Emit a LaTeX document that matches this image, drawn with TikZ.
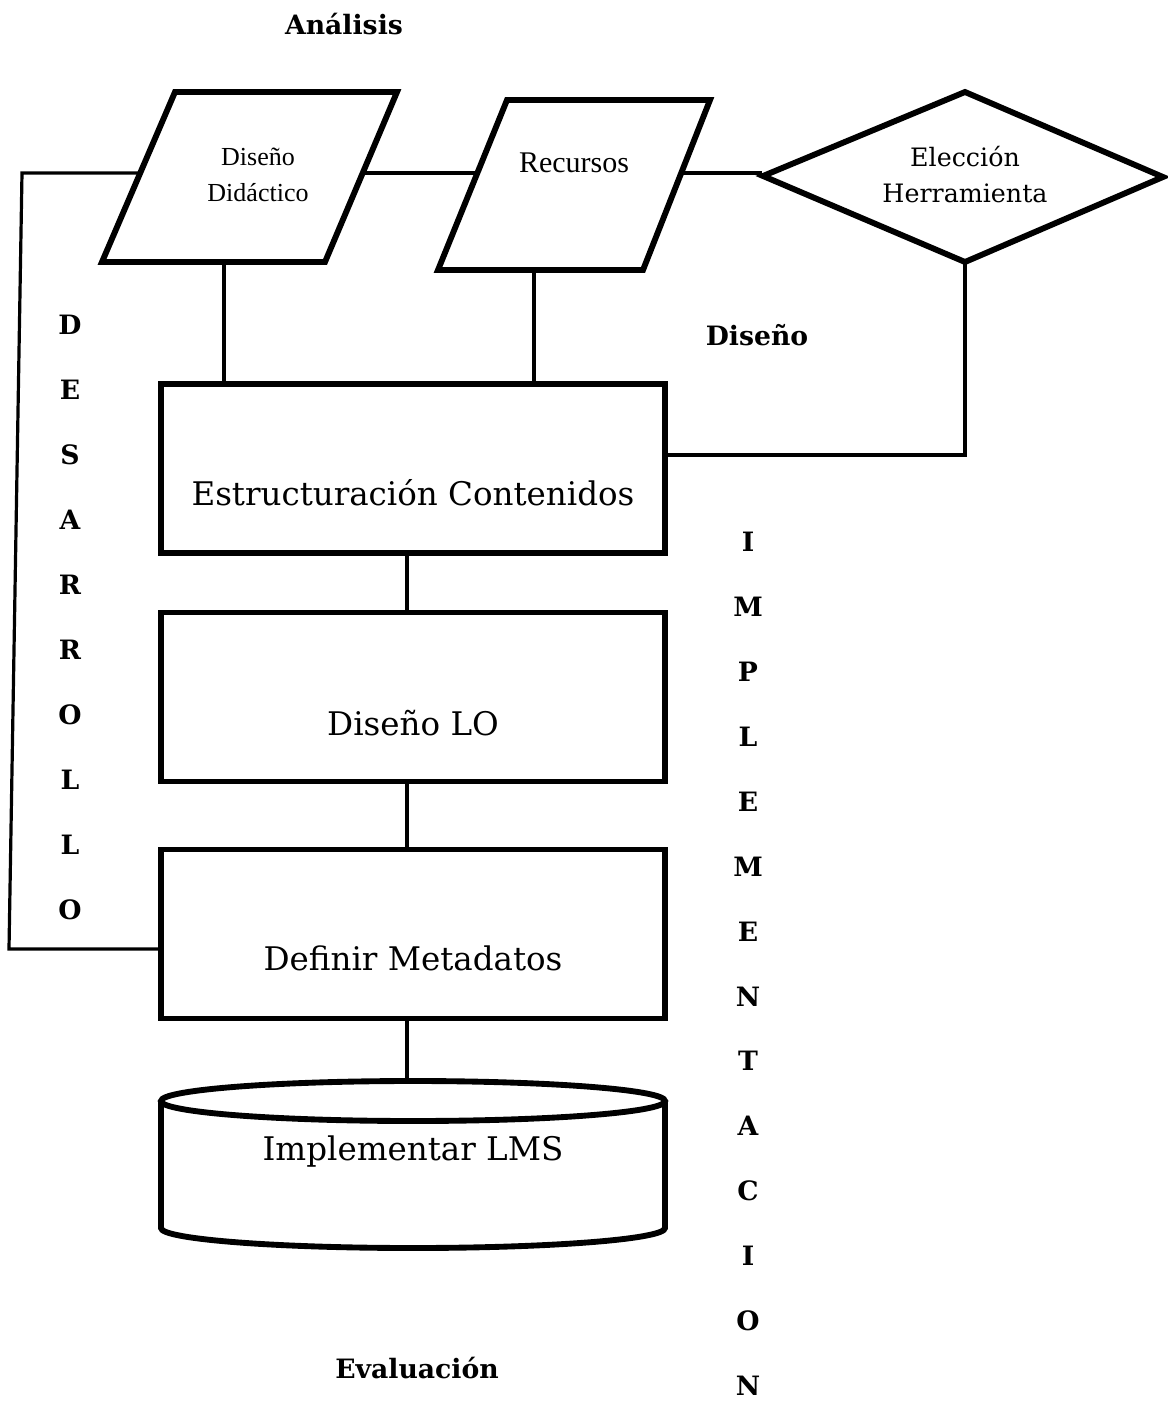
\documentclass[tikz,border=0pt]{standalone}
\usepackage{fontspec}
\setmainfont{DejaVu Serif}
\newfontfamily\narrowserif{Liberation Serif}
\begin{document}
\begin{tikzpicture}[x=0.75pt,y=-0.75pt,
  shp/.style={line width=4.4pt,line join=miter},
  conn/.style={line width=2.4pt},
  box/.style={draw,line width=4.4pt,minimum width=378pt,minimum height=126.75pt,inner sep=0pt},
  boxtxt/.style={font=\fontsize{24.4}{28}\selectfont,inner sep=0pt},
  smalltxt/.style={align=center,inner sep=0pt},
  lbl/.style={font=\fontsize{20}{24}\selectfont\bfseries,inner sep=0pt}]
\useasboundingbox (0,0) rectangle (1167,1401);

% phase labels
\node[lbl] (analisis) at (344,24) {Análisis};
\node[lbl] (disenolbl) at (757,335) {Diseño};
\node[lbl] (evaluacion) at (417,1368) {Evaluación};

% vertical words
\foreach \ch [count=\i from 0] in {D,E,S,A,R,R,O,L,L,O}
  \node[lbl] (des\i) at (70,{325+65*\i}) {\ch};
\foreach \ch [count=\i from 0] in {I,M,P,L,E,M,E,N,T,A,C,I,O,N}
  \node[lbl] (imp\i) at (748,{542+64.9*\i}) {\ch};

% parallelogram 1: Diseño Didáctico
\draw[shp] (175,92) -- (397,92) -- (325,262) -- (102,262) -- cycle;
\node[smalltxt,font=\narrowserif\fontsize{19.5}{27}\selectfont] (dd) at (258,175) {Diseño\\Didáctico};
\coordinate (p1l) at (140.2,173);
\coordinate (p1r) at (362.7,173);
\coordinate (p1b) at (224,262);

% parallelogram 2: Recursos
\draw[shp] (507,100) -- (710,100) -- (643,270) -- (438,270) -- cycle;
\node[inner sep=0pt,font=\narrowserif\fontsize{22.5}{27}\selectfont] (rec) at (574,163) {Recursos};
\coordinate (p2l) at (477.4,173);
\coordinate (p2r) at (681.3,173);
\coordinate (p2b) at (534,270);

% diamond: Elección Herramienta
\draw[shp] (965,92) -- (1163,177) -- (965,262) -- (763,176) -- cycle;
\node[smalltxt,font=\fontsize{19}{27}\selectfont] (eh) at (965,175) {Elección\\Herramienta};
\coordinate (dl) at (762,173);
\coordinate (db) at (965,262);

% boxes
\node[box] (ec) at (413,468.5) {};
\node[boxtxt] (ectxt) at (413,493) {Estructuración Contenidos};
\node[box] (dlo) at (413,697) {};
\node[boxtxt] (dlotxt) at (413,723) {Diseño LO};
\node[box] (dm) at (413,934) {};
\node[boxtxt] (dmtxt) at (413,958) {Definir Metadatos};

% cylinder
\draw[shp] (161,1101) -- (161,1228) arc[start angle=180,end angle=0,x radius=252,y radius=20] -- (665,1101);
\draw[shp] (413,1101) ellipse[x radius=252,y radius=20];
\coordinate (cyltop) at (407,1081);
\node[boxtxt] (lms) at (413,1152) {Implementar LMS};

% connectors
\coordinate (lt) at (22,173);
\coordinate (lb) at (9,949);
\draw[conn] (p1l) -- (lt) -- (lb) -- (dm.west |- lb);
\draw[conn] (p1r) -- (p2l);
\draw[conn] (p2r) -- (dl);
\draw[conn] (p1b) -- (p1b |- ec.north);
\draw[conn] (p2b) -- (p2b |- ec.north);
\draw[conn] (db) -- (db |- 0,455) -- (ec.east |- 0,455);
\draw[conn] (ec.south -| cyltop) -- (dlo.north -| cyltop);
\draw[conn] (dlo.south -| cyltop) -- (dm.north -| cyltop);
\draw[conn] (dm.south -| cyltop) -- (cyltop);
\end{tikzpicture}
\end{document}
